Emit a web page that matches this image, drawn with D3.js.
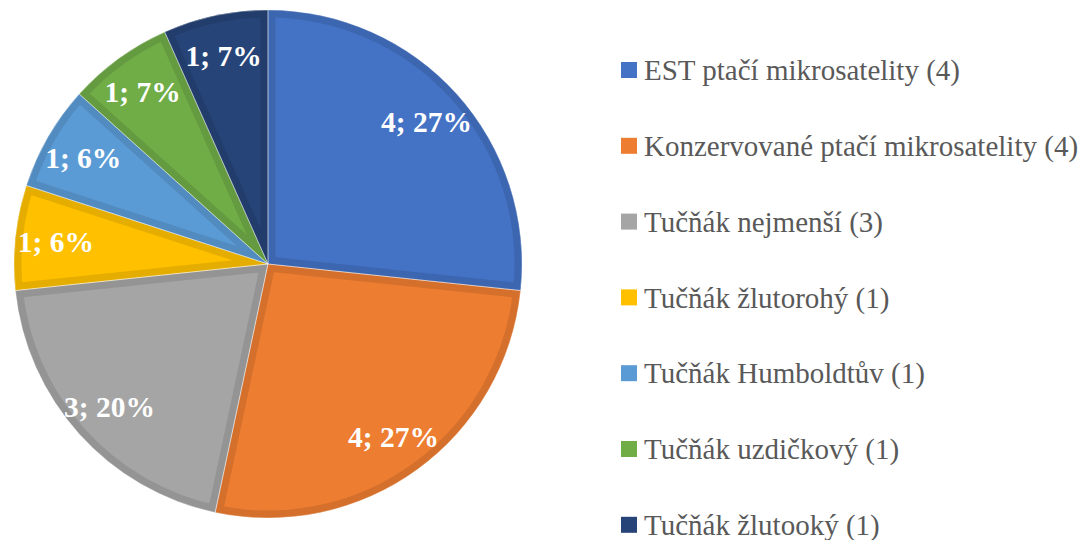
<!DOCTYPE html>
<html>
<head>
<meta charset="utf-8">
<script src="https://cdn.jsdelivr.net/npm/d3@7"></script>
<style>
  html, body { margin: 0; padding: 0; background: #fff; }
  svg { display: block; }
</style>
</head>
<body>
<svg id="chart" width="1088" height="540"></svg>
<script>
// --- data
const categories = [
  "EST ptačí mikrosatelity",
  "Konzervované ptačí mikrosatelity",
  "Tučňák nejmenší",
  "Tučňák žlutorohý",
  "Tučňák Humboldtův",
  "Tučňák uzdičkový",
  "Tučňák žlutooký"
];
const values = [4, 4, 3, 1, 1, 1, 1];
const percentLabels = ["27%", "27%", "20%", "6%", "6%", "7%", "7%"]; // as shown (Excel rounds to 100)
const colors = ["#4472C4", "#ED7D31", "#A5A5A5", "#FFC000", "#5B9BD5", "#70AD47", "#264478"];

const rows = categories.map((c, i) => ({ cat: c, value: values[i], pct: percentLabels[i], color: colors[i], i }));

// --- SVG
const svg = d3.select("#chart");
const cx = 268, cy = 264, R = 254;

const pie = d3.pie().value(d => d.value).sort(null);
const arc = d3.arc().innerRadius(0).outerRadius(R);
const labelArc = d3.arc().innerRadius(R * 0.84).outerRadius(R * 0.84);

const arcs = pie(rows);
const defs = svg.append("defs");
const g = svg.append("g").attr("transform", `translate(${cx},${cy})`);

// slices with darker inner border (clipped stroke)
arcs.forEach((a, i) => {
  const d = arc(a);
  defs.append("clipPath").attr("id", "clip" + i).append("path").attr("d", d);
  g.append("path")
    .attr("d", d)
    .attr("fill", a.data.color)
    .attr("stroke", d3.color(a.data.color).darker(0.3))
    .attr("stroke-width", 15)
    .attr("stroke-linejoin", "miter")
    .attr("clip-path", `url(#clip${i})`);
});

// thin white separators
g.selectAll("path.sep").data(arcs).enter().append("path")
  .attr("class", "sep")
  .attr("d", arc)
  .attr("fill", "none")
  .attr("stroke", "#fff")
  .attr("stroke-width", 0.6)
  .attr("stroke-opacity", 0.6);

// data labels
g.selectAll("text.lbl").data(arcs).enter().append("text")
  .attr("class", "lbl")
  .attr("transform", d => `translate(${labelArc.centroid(d)})`)
  .attr("text-anchor", "middle")
  .attr("dy", "0.35em")
  .style("font-family", "'Liberation Serif', 'Times New Roman', serif")
  .style("font-weight", "bold")
  .style("font-size", "29.5px")
  .style("fill", "#fff")
  .text(d => `${d.data.value}; ${d.data.pct}`);

// --- legend
const legend = svg.append("g").attr("transform", "translate(621,70)");
const rowH = 75.8;
const item = legend.selectAll("g.item").data(rows).enter().append("g")
  .attr("class", "item")
  .attr("transform", (d, i) => `translate(0,${i * rowH})`);
item.append("rect")
  .attr("x", 0).attr("y", -8).attr("width", 16).attr("height", 16)
  .attr("fill", d => d.color);
item.append("text")
  .attr("x", 23).attr("y", 0).attr("dy", "0.35em")
  .style("font-family", "'Liberation Serif', 'Times New Roman', serif")
  .style("font-size", "29px")
  .style("fill", "#595959")
  .text(d => `${d.cat} (${d.value})`);
</script>
</body>
</html>
